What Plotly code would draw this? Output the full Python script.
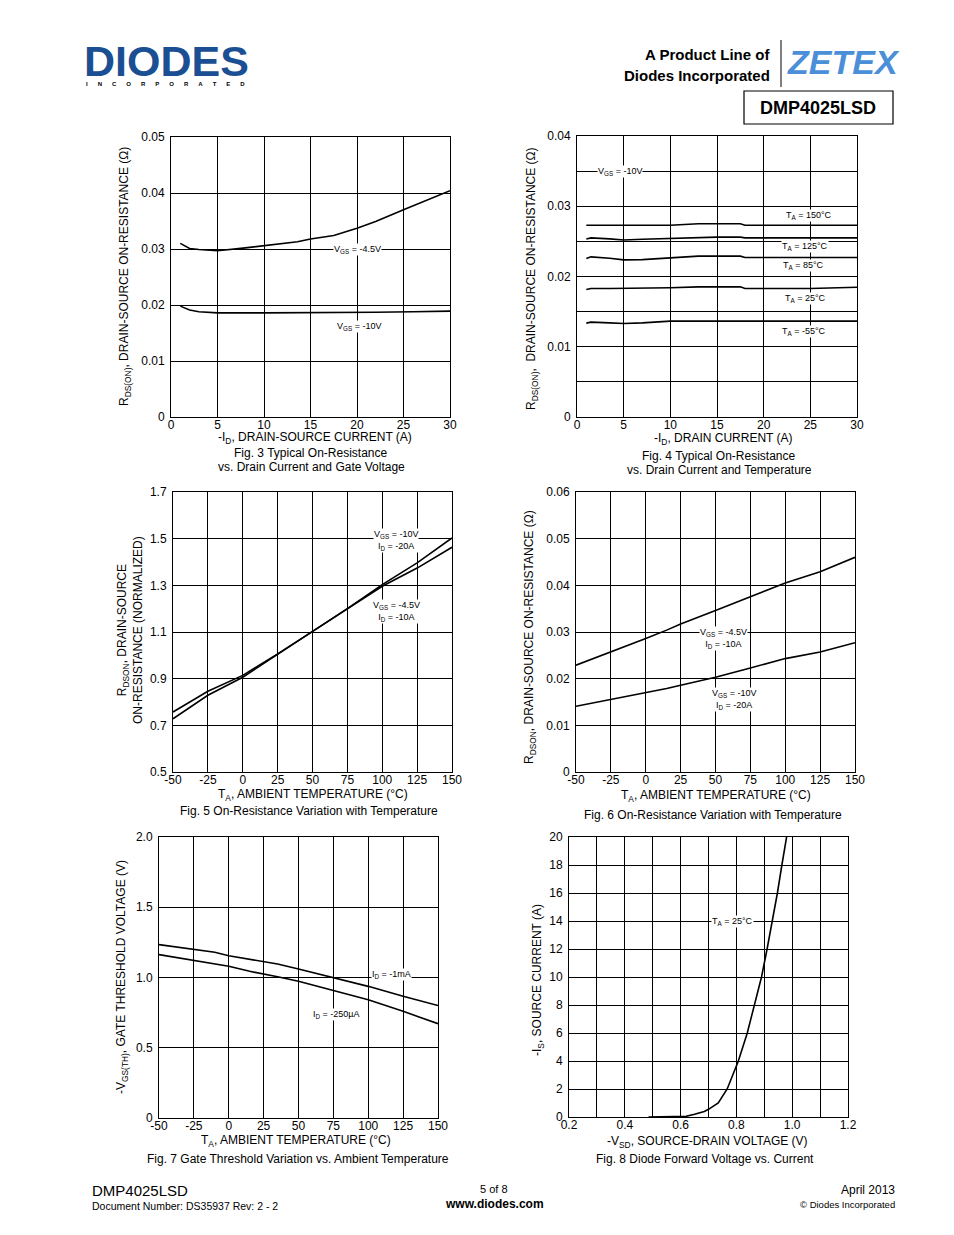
import plotly.graph_objects as go

W, H = 954, 1235
OFF = 8  # page body margin of the browser
FONT = "Liberation Sans, Arial, sans-serif"

# ---------------- data ----------------
fig3_id_45 = [1, 2, 3, 5, 8, 10, 13.6, 15, 17.5, 20, 22, 25, 27.5, 30]
fig3_r_45 = [0.0310, 0.0301, 0.0299, 0.0297, 0.0302, 0.0306, 0.0313, 0.0318, 0.0324, 0.0337, 0.0349, 0.0370, 0.0387, 0.0404]
fig3_id_10 = [1, 2, 3, 5, 10, 15, 20, 22, 26, 30]
fig3_r_10 = [0.0198, 0.0191, 0.0188, 0.0186, 0.0186, 0.0186, 0.0186, 0.0187, 0.0188, 0.0189]

fig4_id = [1, 1.5, 3.5, 5, 7, 10, 13, 15, 17.5, 18, 20, 25, 30]
fig4_r150 = [0.0273, 0.0273, 0.0273, 0.0272, 0.0272, 0.0273, 0.0275, 0.0275, 0.0275, 0.0273, 0.0273, 0.0273, 0.0273]
fig4_r125 = [0.02535, 0.0255, 0.02535, 0.0252, 0.0253, 0.0254, 0.0256, 0.0256, 0.0256, 0.0255, 0.0255, 0.0255, 0.0255]
fig4_r85 = [0.02256, 0.0228, 0.0226, 0.02237, 0.0224, 0.0227, 0.0229, 0.0229, 0.0229, 0.0227, 0.0227, 0.0227, 0.0227]
fig4_r25 = [0.01815, 0.0183, 0.0183, 0.0183, 0.0183, 0.0184, 0.01853, 0.01853, 0.01853, 0.0183, 0.0183, 0.0183, 0.01848]
fig4_rm55 = [0.01336, 0.0135, 0.0134, 0.01332, 0.0134, 0.01365, 0.01365, 0.01365, 0.01365, 0.01365, 0.01365, 0.01365, 0.01365]

fig5_t = [-50, -25, 0, 25, 50, 75, 100, 125, 150]
fig5_n10 = [0.728, 0.829, 0.906, 1.003, 1.103, 1.200, 1.303, 1.396, 1.503]
fig5_n45 = [0.757, 0.846, 0.914, 1.006, 1.103, 1.200, 1.296, 1.374, 1.463]

fig6_t = [-50, -25, 0, 15, 25, 50, 75, 100, 125, 150]
fig6_r45 = [0.0229, 0.0257, 0.0286, 0.0304, 0.0317, 0.0346, 0.0376, 0.0405, 0.0429, 0.0460]
fig6_r10 = [0.0141, 0.0155, 0.0169, 0.0179, 0.0186, 0.0203, 0.0223, 0.0243, 0.0257, 0.0277]

fig7_t = [-50, -25, -10, 0, 15, 25, 35, 50, 75, 100, 125, 150]
fig7_v1ma = [1.234, 1.198, 1.180, 1.155, 1.130, 1.115, 1.096, 1.060, 1.001, 0.937, 0.866, 0.800]
fig7_v250 = [1.163, 1.122, 1.098, 1.080, 1.044, 1.027, 1.005, 0.973, 0.909, 0.842, 0.759, 0.671]

fig8_vsd = [0.485, 0.60, 0.62, 0.65, 0.685, 0.70, 0.735, 0.767, 0.807, 0.839, 0.864, 0.89, 0.91, 0.929, 0.947, 0.963, 0.98, 0.985]
fig8_is = [0, 0, 0.05, 0.2, 0.4, 0.55, 1.0, 2.0, 4.0, 6.0, 8.0, 10.0, 12.0, 14.0, 16.0, 18.0, 20.0, 20.6]

# tick labels
t3_x = [0, 5, 10, 15, 20, 25, 30]
t3_y = [0, 0.01, 0.02, 0.03, 0.04, 0.05]
t3_yl = ["0", "0.01", "0.02", "0.03", "0.04", "0.05"]
t4_y = [0, 0.01, 0.02, 0.03, 0.04]
t4_yl = ["0", "0.01", "0.02", "0.03", "0.04"]
t_temp = [-50, -25, 0, 25, 50, 75, 100, 125, 150]
t_temp_l = ["-50", "-25", "0", "25", "50", "75", "100", "125", "150"]
t5_y = [0.5, 0.7, 0.9, 1.1, 1.3, 1.5, 1.7]
t5_yl = ["0.5", "0.7", "0.9", "1.1", "1.3", "1.5", "1.7"]
t6_y = [0, 0.01, 0.02, 0.03, 0.04, 0.05, 0.06]
t6_yl = ["0", "0.01", "0.02", "0.03", "0.04", "0.05", "0.06"]
t7_y = [0, 0.5, 1.0, 1.5, 2.0]
t7_yl = ["0", "0.5", "1.0", "1.5", "2.0"]
t8_x = [0.2, 0.4, 0.6, 0.8, 1.0, 1.2]
t8_xl = ["0.2", "0.4", "0.6", "0.8", "1.0", "1.2"]
t8_y = [0, 2, 4, 6, 8, 10, 12, 14, 16, 18, 20]


def PX(x):
    return (x - OFF) / W


def PY(y):
    return 1 - (y - OFF) / H


fig = go.Figure()
LINE = dict(color="black", width=1.6)

# plot boxes in page pixels: (left, right, top, bottom)
boxes = {
    1: (171, 450, 137, 417),
    2: (577, 857, 136, 417),
    3: (173, 452, 492, 772),
    4: (576, 855, 492, 772),
    5: (159, 438, 837, 1118),
    6: (569, 848, 837, 1117),
}


def add_line(n, x, y):
    sfx = "" if n == 1 else str(n)
    fig.add_trace(go.Scatter(x=x, y=y, mode="lines", line=LINE, showlegend=False,
                             hoverinfo="skip", xaxis="x" + sfx, yaxis="y" + sfx))


add_line(1, fig3_id_45, fig3_r_45)
add_line(1, fig3_id_10, fig3_r_10)
for s in (fig4_r150, fig4_r125, fig4_r85, fig4_r25, fig4_rm55):
    add_line(2, fig4_id, s)
add_line(3, fig5_t, fig5_n10)
add_line(3, fig5_t, fig5_n45)
add_line(4, fig6_t, fig6_r45)
add_line(4, fig6_t, fig6_r10)
add_line(5, fig7_t, fig7_v1ma)
add_line(5, fig7_t, fig7_v250)
add_line(6, fig8_vsd, fig8_is)

TICKF = dict(family=FONT, size=12, color="black")


def axis(n, rng, tickvals, ticktext=None, minor=None, is_x=True):
    l, r, t, b = boxes[n]
    d = dict(range=rng, showline=True, mirror=True, linecolor="black", linewidth=1,
             showgrid=True, gridcolor="black", gridwidth=1, zeroline=False, automargin=False,
             ticks="", tickvals=tickvals, tickfont=TICKF, fixedrange=True)
    if ticktext is not None:
        d["ticktext"] = ticktext
    if minor is not None:
        d["minor"] = dict(dtick=minor, showgrid=True, gridcolor="black", gridwidth=1, ticks="")
    if is_x:
        d["domain"] = [PX(l), PX(r)]
        d["anchor"] = "y" if n == 1 else "y" + str(n)
        d["ticklabelstandoff"] = -3
    else:
        d["domain"] = [PY(b), PY(t)]
        d["anchor"] = "x" if n == 1 else "x" + str(n)
        d["ticklabelstandoff"] = 3
    return d


lay = {}
lay["xaxis"] = axis(1, [0, 30], t3_x)
lay["yaxis"] = axis(1, [0, 0.05], t3_y, t3_yl, is_x=False)
lay["xaxis2"] = axis(2, [0, 30], t3_x)
lay["yaxis2"] = axis(2, [0, 0.04], t4_y, t4_yl, minor=0.005, is_x=False)
lay["xaxis3"] = axis(3, [-50, 150], t_temp, t_temp_l)
lay["yaxis3"] = axis(3, [0.5, 1.7], t5_y, t5_yl, is_x=False)
lay["xaxis4"] = axis(4, [-50, 150], t_temp, t_temp_l)
lay["yaxis4"] = axis(4, [0, 0.06], t6_y, t6_yl, is_x=False)
lay["xaxis5"] = axis(5, [-50, 150], t_temp, t_temp_l)
lay["yaxis5"] = axis(5, [0, 2.0], t7_y, t7_yl, is_x=False)
lay["xaxis6"] = axis(6, [0.2, 1.2], t8_x, t8_xl, minor=0.1)
lay["yaxis6"] = axis(6, [0, 20], t8_y, is_x=False)

ann = []


def text(x, y, s, size=12, xanchor="center", angle=0, bold=False, color="black", family=FONT, yanchor="middle"):
    ann.append(dict(x=PX(x), y=PY(y), xref="paper", yref="paper", text=("<b>%s</b>" % s) if bold else s,
                    showarrow=False, xanchor=xanchor, yanchor=yanchor, textangle=angle,
                    font=dict(family=family, size=size, color=color)))


def label(n, x, y, s):
    sfx = "" if n == 1 else str(n)
    ann.append(dict(x=x, y=y, xref="x" + sfx, yref="y" + sfx, text=s, showarrow=False,
                    bgcolor="white", borderpad=0, font=dict(family=FONT, size=9, color="black")))


# chart labels
label(1, 20.0, 0.0300, "V<sub>GS</sub> = -4.5V")
label(1, 20.2, 0.0161, "V<sub>GS</sub> = -10V")
label(2, 4.66, 0.0350, "V<sub>GS</sub> = -10V")
label(2, 24.9, 0.02875, "T<sub>A</sub> = 150°C")
label(2, 24.4, 0.0243, "T<sub>A</sub> = 125°C")
label(2, 24.3, 0.0216, "T<sub>A</sub> = 85°C")
label(2, 24.5, 0.01694, "T<sub>A</sub> = 25°C")
label(2, 24.3, 0.01224, "T<sub>A</sub> = -55°C")
label(3, 109.7, 1.494, "V<sub>GS</sub> = -10V<br>I<sub>D</sub> = -20A")
label(3, 110.2, 1.186, "V<sub>GS</sub> = -4.5V<br>I<sub>D</sub> = -10A")
label(4, 55.4, 0.0287, "V<sub>GS</sub> = -4.5V<br>I<sub>D</sub> = -10A")
label(4, 63.3, 0.01554, "V<sub>GS</sub> = -10V<br>I<sub>D</sub> = -20A")
label(5, 117, 1.018, "I<sub>D</sub> = -1mA")
label(5, 76.9, 0.74, "I<sub>D</sub> = -250µA")
label(6, 0.786, 14.0, "T<sub>A</sub> = 25°C")

# axis titles and captions
text(125, 277, "R<sub>DS(ON)</sub>, DRAIN-SOURCE ON-RESISTANCE (Ω)", angle=-90)
text(315, 438, "-I<sub>D</sub>, DRAIN-SOURCE CURRENT (A)")
text(311, 453, "Fig. 3 Typical On-Resistance")
text(311, 467, "vs. Drain Current and Gate Voltage")

text(532, 279, "R<sub>DS(ON)</sub>,  DRAIN-SOURCE ON-RESISTANCE (Ω)", angle=-90)
text(723, 439, "-I<sub>D</sub>, DRAIN CURRENT (A)")
text(719, 456, "Fig. 4 Typical On-Resistance")
text(719, 470, "vs. Drain Current and Temperature")

text(130, 630, "R<sub>DSON</sub>, DRAIN-SOURCE<br>ON-RESISTANCE (NORMALIZED)", angle=-90)
text(313, 795, "T<sub>A</sub>, AMBIENT TEMPERATURE (°C)")
text(309, 811, "Fig. 5 On-Resistance Variation with Temperature")

text(530, 637, "R<sub>DSON</sub>, DRAIN-SOURCE ON-RESISTANCE (Ω)", angle=-90)
text(716, 796, "T<sub>A</sub>, AMBIENT TEMPERATURE (°C)")
text(713, 815, "Fig. 6 On-Resistance Variation with Temperature")

text(122, 977, "-V<sub>GS(TH)</sub>, GATE THRESHOLD VOLTAGE (V)", angle=-90)
text(296, 1141, "T<sub>A</sub>, AMBIENT TEMPERATURE (°C)")
text(298, 1159, "Fig. 7 Gate Threshold Variation vs. Ambient Temperature")

text(538, 980, "-I<sub>S</sub>, SOURCE CURRENT (A)", angle=-90)
text(707, 1142, "-V<sub>SD</sub>, SOURCE-DRAIN VOLTAGE (V)")
text(705, 1159, "Fig. 8 Diode Forward Voltage vs. Current")

# header
text(82, 61, "DIODES", size=43, xanchor="left", bold=True, color="#1b4f93")
GAP = "&nbsp;" * 6
text(84, 84, GAP.join("INCORPORATED"), size=6, xanchor="left", bold=True)
text(772, 55, "A Product Line of", size=15, xanchor="right", bold=True)
text(772, 75, "Diodes Incorporated", size=15, xanchor="right", bold=True)
text(843, 62, "<i>ZETEX</i>", size=34, xanchor="center", bold=True, color="#4a8fd8")
text(818, 108, "DMP4025LSD", size=18, bold=True)

# footer
text(90, 1190, "DMP4025LSD", size=15, xanchor="left")
text(90, 1206, "Document Number: DS35937 Rev: 2 - 2", size=10.5, xanchor="left")
text(494, 1189, "5 of 8", size=11)
text(494, 1204, "www.diodes.com", size=12, bold=True)
text(897, 1190, "April 2013", size=12, xanchor="right")
text(897, 1204, "© Diodes Incorporated", size=9.5, xanchor="right")

shapes = [
    dict(type="rect", xref="paper", yref="paper", x0=PX(744), x1=PX(893), y0=PY(124), y1=PY(91),
         line=dict(color="black", width=1.2)),
    dict(type="line", xref="paper", yref="paper", x0=PX(781), x1=PX(781), y0=PY(87), y1=PY(40),
         line=dict(color="black", width=1)),
]

fig.update_layout(width=W, height=H, margin=dict(l=0, r=0, t=0, b=0, autoexpand=False),
                  template="none", paper_bgcolor="white",
                  plot_bgcolor="white", showlegend=False, annotations=ann, shapes=shapes,
                  font=dict(family=FONT, color="black"), **lay)

fig.write_html("out.html", config={"displayModeBar": False})
